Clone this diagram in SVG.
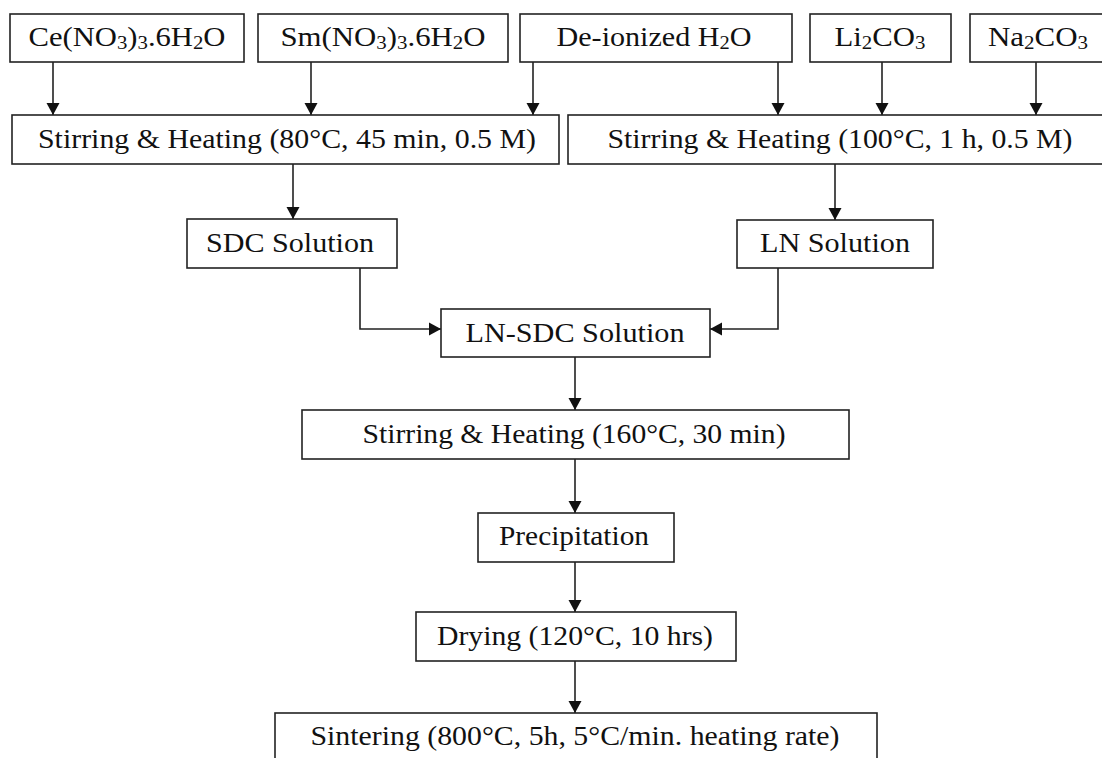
<svg xmlns="http://www.w3.org/2000/svg" width="1102" height="758" viewBox="0 0 1102 758">
  <style>
    .box { fill: #ffffff; stroke: #222222; stroke-width: 1.6; }
    .lbl { font-family: "Liberation Serif", "Times New Roman", serif; font-size: 28px; fill: #111111; text-anchor: middle; }
    .sub { font-size: 19px; }
    .edge { fill: none; stroke: #222222; stroke-width: 1.6; }
  </style>
  <defs>
    <marker id="arrow" viewBox="0 0 12 14" markerWidth="12" markerHeight="14" refX="12" refY="7" orient="auto" markerUnits="userSpaceOnUse">
      <path d="M0,0.5 L12,7 L0,13.5 z" fill="#111111"/>
    </marker>
  </defs>
  <rect width="1102" height="758" fill="#ffffff"/>

  <!-- connectors -->
  <g id="connectors" marker-end="url(#arrow)">
    <line class="edge" x1="53" y1="62" x2="53" y2="115"/>
    <line class="edge" x1="311" y1="62" x2="311" y2="115"/>
    <line class="edge" x1="533" y1="62" x2="533" y2="115"/>
    <line class="edge" x1="778" y1="62" x2="778" y2="115"/>
    <line class="edge" x1="882" y1="62" x2="882" y2="115"/>
    <line class="edge" x1="1036" y1="62" x2="1036" y2="115"/>
    <line class="edge" x1="293" y1="164" x2="293" y2="219"/>
    <line class="edge" x1="835" y1="164" x2="835" y2="220"/>
    <polyline class="edge" points="360,268 360,329 441,329"/>
    <polyline class="edge" points="778,268 778,329 710,329"/>
    <line class="edge" x1="575" y1="357" x2="575" y2="410"/>
    <line class="edge" x1="575" y1="459" x2="575" y2="513"/>
    <line class="edge" x1="575" y1="562" x2="575" y2="612"/>
    <line class="edge" x1="575" y1="661" x2="575" y2="713"/>
  </g>

  <!-- reagents -->
  <g id="ce-nitrate">
    <rect class="box" x="10" y="14" width="234" height="48"/>
    <text class="lbl" x="127" y="46" textLength="197" lengthAdjust="spacingAndGlyphs">Ce(NO<tspan class="sub" dy="3">3</tspan><tspan dy="-3">)</tspan><tspan class="sub" dy="3">3</tspan><tspan dy="-3">.6H</tspan><tspan class="sub" dy="3">2</tspan><tspan dy="-3">O</tspan></text>
  </g>
  <g id="sm-nitrate">
    <rect class="box" x="258" y="14" width="250" height="48"/>
    <text class="lbl" x="383" y="46" textLength="205" lengthAdjust="spacingAndGlyphs">Sm(NO<tspan class="sub" dy="3">3</tspan><tspan dy="-3">)</tspan><tspan class="sub" dy="3">3</tspan><tspan dy="-3">.6H</tspan><tspan class="sub" dy="3">2</tspan><tspan dy="-3">O</tspan></text>
  </g>
  <g id="water">
    <rect class="box" x="520" y="14" width="272" height="48"/>
    <text class="lbl" x="654" y="46" textLength="195" lengthAdjust="spacingAndGlyphs">De-ionized H<tspan class="sub" dy="3">2</tspan><tspan dy="-3">O</tspan></text>
  </g>
  <g id="li-carbonate">
    <rect class="box" x="810" y="14" width="141" height="48"/>
    <text class="lbl" x="880" y="46" textLength="91" lengthAdjust="spacingAndGlyphs">Li<tspan class="sub" dy="3">2</tspan><tspan dy="-3">CO</tspan><tspan class="sub" dy="3">3</tspan></text>
  </g>
  <g id="na-carbonate">
    <rect class="box" x="970" y="14" width="140" height="48"/>
    <text class="lbl" x="1038" y="46" textLength="100" lengthAdjust="spacingAndGlyphs">Na<tspan class="sub" dy="3">2</tspan><tspan dy="-3">CO</tspan><tspan class="sub" dy="3">3</tspan></text>
  </g>

  <!-- mixing stages -->
  <g id="stir-sdc">
    <rect class="box" x="12" y="115" width="547" height="49"/>
    <text class="lbl" x="287" y="148" textLength="498" lengthAdjust="spacingAndGlyphs">Stirring &amp; Heating (80°C, 45 min, 0.5 M)</text>
  </g>
  <g id="stir-ln">
    <rect class="box" x="568" y="115" width="545" height="49"/>
    <text class="lbl" x="840" y="148" textLength="465" lengthAdjust="spacingAndGlyphs">Stirring &amp; Heating (100°C, 1 h, 0.5 M)</text>
  </g>
  <g id="sdc-solution">
    <rect class="box" x="187" y="219" width="210" height="49"/>
    <text class="lbl" x="290" y="252" textLength="168" lengthAdjust="spacingAndGlyphs">SDC Solution</text>
  </g>
  <g id="ln-solution">
    <rect class="box" x="737" y="220" width="196" height="48"/>
    <text class="lbl" x="835" y="252" textLength="150" lengthAdjust="spacingAndGlyphs">LN Solution</text>
  </g>
  <g id="ln-sdc-solution">
    <rect class="box" x="441" y="309" width="269" height="48"/>
    <text class="lbl" x="575" y="342" textLength="219" lengthAdjust="spacingAndGlyphs">LN-SDC Solution</text>
  </g>
  <g id="stir-composite">
    <rect class="box" x="302" y="410" width="547" height="49"/>
    <text class="lbl" x="574" y="443" textLength="423" lengthAdjust="spacingAndGlyphs">Stirring &amp; Heating (160°C, 30 min)</text>
  </g>
  <g id="precipitation">
    <rect class="box" x="478" y="513" width="196" height="49"/>
    <text class="lbl" x="574" y="545" textLength="150" lengthAdjust="spacingAndGlyphs">Precipitation</text>
  </g>
  <g id="drying">
    <rect class="box" x="416" y="612" width="320" height="49"/>
    <text class="lbl" x="575" y="645" textLength="276" lengthAdjust="spacingAndGlyphs">Drying (120°C, 10 hrs)</text>
  </g>
  <g id="sintering">
    <rect class="box" x="275" y="713" width="602" height="60"/>
    <text class="lbl" x="575" y="745" textLength="529" lengthAdjust="spacingAndGlyphs">Sintering (800°C, 5h, 5°C/min. heating rate)</text>
  </g>
</svg>
